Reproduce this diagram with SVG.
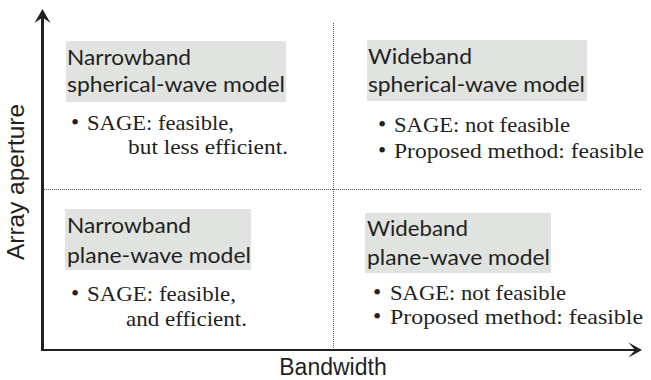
<svg xmlns="http://www.w3.org/2000/svg" width="651" height="380" viewBox="0 0 651 380">
<style>
.hdr{font-family:Lato,"Open Sans",sans-serif;font-size:21px;fill:#231f20}
.box{fill:#e1e3e0}
.txt{font-family:"Liberation Serif","Times New Roman",serif;font-size:21px;fill:#231f20}
.bul{font-size:23.5px}
.axl{font-family:"Liberation Sans",Arial,sans-serif;font-size:23px;fill:#231f20}
.dot{stroke:#555;stroke-width:1;stroke-dasharray:1 1;fill:none}
.axis{stroke:#231f20;fill:none}
.head{fill:#231f20}
</style>
<rect width="651" height="380" fill="#fff"/>
<g id="connectors">
<line class="dot" x1="333.5" y1="23" x2="333.5" y2="349"/>
<line class="dot" x1="44" y1="189.5" x2="641" y2="189.5"/>
<line class="axis" x1="42.5" y1="14" x2="42.5" y2="351" stroke-width="3"/>
<line class="axis" x1="41" y1="350" x2="637" y2="350" stroke-width="2"/>
<polygon class="head" points="42.5,9 34.5,23 42.5,17.5 50.5,23"/>
<polygon class="head" points="642,350 628.5,342.5 635,350 628.5,357.5"/>
</g>
<g id="axis-y"><text class="axl" transform="translate(24,182) rotate(-90)" text-anchor="middle" textLength="156" lengthAdjust="spacingAndGlyphs">Array aperture</text></g>
<g id="axis-x"><text class="axl" x="333" y="375" text-anchor="middle">Bandwidth</text></g>
<g id="q1">
<rect class="box" x="66" y="41" width="220" height="61"/>
<text class="hdr" x="67" y="65" textLength="124" lengthAdjust="spacingAndGlyphs">Narrowband</text>
<text class="hdr" x="67" y="92" textLength="218" lengthAdjust="spacingAndGlyphs">spherical-wave model</text>
<text class="txt" y="130"><tspan class="bul" x="71">•</tspan><tspan x="87" textLength="147" lengthAdjust="spacingAndGlyphs">SAGE: feasible,</tspan></text>
<text class="txt" x="128" y="154" textLength="160" lengthAdjust="spacingAndGlyphs">but less efficient.</text>
</g>
<g id="q2">
<rect class="box" x="367" y="40" width="220" height="61"/>
<text class="hdr" x="368" y="64" textLength="104" lengthAdjust="spacingAndGlyphs">Wideband</text>
<text class="hdr" x="368" y="92" textLength="217" lengthAdjust="spacingAndGlyphs">spherical-wave model</text>
<text class="txt" y="132"><tspan class="bul" x="378">•</tspan><tspan x="394" textLength="176" lengthAdjust="spacingAndGlyphs">SAGE: not feasible</tspan></text>
<text class="txt" y="158"><tspan class="bul" x="378">•</tspan><tspan x="394" textLength="250" lengthAdjust="spacingAndGlyphs">Proposed method: feasible</tspan></text>
</g>
<g id="q3">
<rect class="box" x="65" y="209" width="186" height="61"/>
<text class="hdr" x="67" y="233" textLength="124" lengthAdjust="spacingAndGlyphs">Narrowband</text>
<text class="hdr" x="67" y="263" textLength="184" lengthAdjust="spacingAndGlyphs">plane-wave model</text>
<text class="txt" y="301"><tspan class="bul" x="71">•</tspan><tspan x="87" textLength="149" lengthAdjust="spacingAndGlyphs">SAGE: feasible,</tspan></text>
<text class="txt" x="126" y="326" textLength="121" lengthAdjust="spacingAndGlyphs">and efficient.</text>
</g>
<g id="q4">
<rect class="box" x="365" y="213" width="186" height="60"/>
<text class="hdr" x="367" y="236" textLength="101" lengthAdjust="spacingAndGlyphs">Wideband</text>
<text class="hdr" x="367" y="265" textLength="183" lengthAdjust="spacingAndGlyphs">plane-wave model</text>
<text class="txt" y="300"><tspan class="bul" x="373">•</tspan><tspan x="390" textLength="176" lengthAdjust="spacingAndGlyphs">SAGE: not feasible</tspan></text>
<text class="txt" y="324"><tspan class="bul" x="373">•</tspan><tspan x="390" textLength="253" lengthAdjust="spacingAndGlyphs">Proposed method: feasible</tspan></text>
</g>
</svg>
